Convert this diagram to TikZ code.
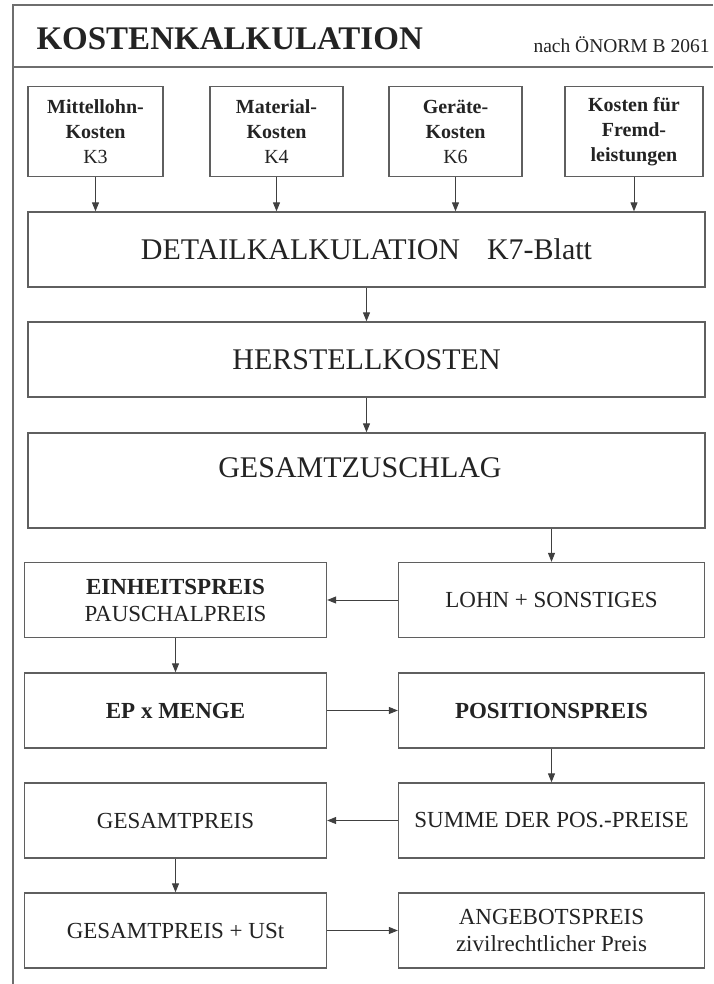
\documentclass[tikz,border=0pt]{standalone}
\usepackage{fontspec}
\setmainfont{Liberation Serif}
\usepackage{xcolor}
\usetikzlibrary{arrows.meta}

\definecolor{framegray}{RGB}{110,110,110}
\definecolor{boxgray}{RGB}{95,95,95}
\definecolor{txtgray}{RGB}{35,35,35}

\begin{document}
\begin{tikzpicture}[x=1pt, y=-1pt,
  kbox/.style={draw=boxgray, line width=1.3pt, inner sep=0pt, align=center, text=txtgray},
  smallbox/.style={kbox, minimum height=90pt, font=\fontsize{20}{25}\selectfont},
  widebox/.style={kbox, minimum width=677pt, font=\fontsize{30}{34}\selectfont},
  rowbox/.style={kbox, minimum height=75pt, font=\fontsize{23}{27}\selectfont},
  arr/.style={-{Triangle[length=9pt, width=7pt]}, line width=1pt, draw=black!75}]
\useasboundingbox (0,0) rectangle (713,984);
% frame
\draw[framegray, line width=1.6pt] (713,5) -- (13,5) -- (13,984);
\draw[framegray, line width=1.6pt] (13,67) -- (713,67);
\node[anchor=base west, text=txtgray, font=\fontsize{33}{36}\selectfont\bfseries] (title) at (33,50) {KOSTENKALKULATION};
\node[anchor=base west, text=txtgray, font=\fontsize{19.5}{22}\selectfont] (norm) at (530,53) {nach ÖNORM B 2061};

% cost types
\node[smallbox, minimum width=135pt] (k3) at (95.5,131.5) {\textbf{Mittellohn-}\\\textbf{Kosten}\\K3};
\node[smallbox, minimum width=133pt] (k4) at (276.5,131.5) {\textbf{Material-}\\\textbf{Kosten}\\K4};
\node[smallbox, minimum width=133pt] (k6) at (455.5,131.5) {\textbf{Geräte-}\\\textbf{Kosten}\\K6};
\node[smallbox, minimum width=138pt] (fl) at (634,131.5) {\textbf{Kosten für}\\\textbf{Fremd-}\\\textbf{leistungen}};

% main chain
\node[widebox, minimum height=75pt] (detail) at (366.5,249.5) {DETAILKALKULATION\hspace{0.9em}K7-Blatt};
\node[widebox, minimum height=75pt] (herst) at (366.5,359.5) {HERSTELLKOSTEN};
\node[widebox, minimum height=95pt] (zus) at (366.5,480.5) {};
\node[text=txtgray, font=\fontsize{30}{34}\selectfont] (zustxt) at (360,468) {GESAMTZUSCHLAG};

% price rows
\node[rowbox, minimum width=302pt] (ep) at (175.5,600) {\textbf{EINHEITSPREIS}\\PAUSCHALPREIS};
\node[rowbox, minimum width=306pt] (lohn) at (551.5,600) {LOHN + SONSTIGES};
\node[rowbox, minimum width=302pt] (menge) at (175.5,710.5) {\textbf{EP x MENGE}};
\node[rowbox, minimum width=306pt] (pos) at (551.5,710.5) {\textbf{POSITIONSPREIS}};
\node[rowbox, minimum width=302pt] (gp) at (175.5,820.5) {GESAMTPREIS};
\node[rowbox, minimum width=306pt] (summe) at (551.5,820.5) {SUMME DER POS.-PREISE};
\node[rowbox, minimum width=302pt] (gpust) at (175.5,930.5) {GESAMTPREIS + USt};
\node[rowbox, minimum width=306pt] (angebot) at (551.5,930.5) {ANGEBOTSPREIS\\zivilrechtlicher Preis};

% arrows
\draw[arr] (k3.south) -- (k3.south |- detail.north);
\draw[arr] (k4.south) -- (k4.south |- detail.north);
\draw[arr] (k6.south) -- (k6.south |- detail.north);
\draw[arr] (fl.south) -- (fl.south |- detail.north);
\draw[arr] (detail.south) -- (herst.north);
\draw[arr] (herst.south) -- (zus.north);
\draw[arr] (lohn.north |- zus.south) -- (lohn.north);
\draw[arr] (lohn.west) -- (ep.east);
\draw[arr] (ep.south) -- (menge.north);
\draw[arr] (menge.east) -- (pos.west);
\draw[arr] (pos.south) -- (summe.north);
\draw[arr] (summe.west) -- (gp.east);
\draw[arr] (gp.south) -- (gpust.north);
\draw[arr] (gpust.east) -- (angebot.west);
\end{tikzpicture}
\end{document}
